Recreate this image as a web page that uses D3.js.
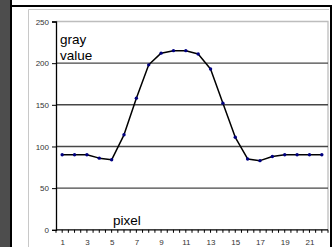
<!DOCTYPE html>
<html>
<head>
<meta charset="utf-8">
<script src="https://cdn.jsdelivr.net/npm/d3@7"></script>
<style>
html,body{margin:0;padding:0;background:#fff;}
svg{display:block;}
text{font-family:"Liberation Sans",Arial,sans-serif;}
</style>
</head>
<body>
<svg id="chart" width="332" height="247"></svg>
<script>
const categories = d3.range(1, 23);
const grayValues = [90, 90, 90, 86, 84, 114, 158, 198, 212, 215, 215, 211, 193, 152, 111, 85, 83, 88, 90, 90, 90, 90];
const yTicks = [0, 50, 100, 150, 200, 250];
const xTickLabels = [1, 3, 5, 7, 9, 11, 13, 15, 17, 19, 21];

(function () {
const svg = d3.select("#chart");

// frame decorations
svg.append("rect").attr("x", 0).attr("y", 0).attr("width", 10.5).attr("height", 247).attr("fill", "#4d4d4d");
svg.append("rect").attr("x", 10).attr("y", 0).attr("width", 2).attr("height", 247).attr("fill", "#000");
svg.append("rect").attr("x", 12).attr("y", 5).attr("width", 320).attr("height", 2).attr("fill", "#000");
svg.append("rect").attr("x", 330).attr("y", 5).attr("width", 2).attr("height", 242).attr("fill", "#000");
// chart area border
svg.append("path").attr("d", "M28.5,247 V9.5 H329").attr("fill", "none").attr("stroke", "#c8c8c8").attr("stroke-width", 1);

const pLeft = 56, pRight = 328, pTop = 21.5, pBottom = 229.8;
const x = d3.scaleBand().domain(categories).range([pLeft, pRight]).paddingInner(0).paddingOuter(0);
const y = d3.scaleLinear().domain([0, 250]).range([pBottom, pTop]);

// plot area border (top & right)
svg.append("path").attr("d", `M${pLeft},${pTop} H${pRight} V${pBottom}`).attr("fill", "none").attr("stroke", "#bdbdbd").attr("stroke-width", 1.3);

// gridlines
svg.append("g").selectAll("line").data(yTicks.filter(v => v > 0 && v < 250)).join("line")
  .attr("x1", pLeft).attr("x2", pRight)
  .attr("y1", d => y(d)).attr("y2", d => y(d))
  .attr("stroke", "#474747").attr("stroke-width", 1.4);

// y axis
const yAxis = d3.axisLeft(y).tickValues(yTicks).tickSize(4).tickPadding(3);
const gy = svg.append("g").attr("transform", `translate(${pLeft},0)`).call(yAxis);
gy.select(".domain").attr("stroke", "#000").attr("stroke-width", 1.3);
gy.selectAll(".tick line").attr("stroke", "#000");
gy.selectAll("text").attr("font-size", 8).attr("fill", "#333").attr("font-family", "Liberation Sans, Arial, sans-serif");

// x axis
const bw = x.bandwidth();
const tickPositions = [];
categories.forEach(c => { tickPositions.push(x(c)); tickPositions.push(x(c) + bw / 2); });
tickPositions.push(pRight);
svg.append("line").attr("x1", pLeft).attr("x2", pRight).attr("y1", pBottom).attr("y2", pBottom)
  .attr("stroke", "#000").attr("stroke-width", 1.3);
svg.append("g").selectAll("line").data(tickPositions).join("line")
  .attr("x1", d => d).attr("x2", d => d).attr("y1", pBottom).attr("y2", pBottom + 3)
  .attr("stroke", "#000").attr("stroke-width", 1);
svg.append("g").selectAll("text").data(xTickLabels).join("text")
  .attr("x", d => x(d) + bw / 2 + 0.5).attr("y", 244.5)
  .attr("text-anchor", "middle").attr("font-size", 8).attr("fill", "#333")
  .text(d => d);

// line
const line = d3.line().x((d, i) => x(categories[i]) + bw / 2).y(d => y(d));
svg.append("path").datum(grayValues).attr("d", line)
  .attr("fill", "none").attr("stroke", "#000").attr("stroke-width", 1.5).attr("stroke-linejoin", "round");

svg.append("g").selectAll("circle").data(grayValues).join("circle")
  .attr("cx", (d, i) => x(categories[i]) + bw / 2).attr("cy", d => y(d))
  .attr("r", 1.7).attr("fill", "#000080");

// labels
const lbl = svg.append("text").attr("x", 60).attr("font-size", 13.5).attr("fill", "#000");
lbl.append("tspan").attr("x", 60).attr("y", 44).text("gray");
lbl.append("tspan").attr("x", 60).attr("y", 60).text("value");
svg.append("text").attr("x", 113).attr("y", 224.5).attr("font-size", 13.5).attr("fill", "#000").text("pixel");
})();
</script>
</body>
</html>
